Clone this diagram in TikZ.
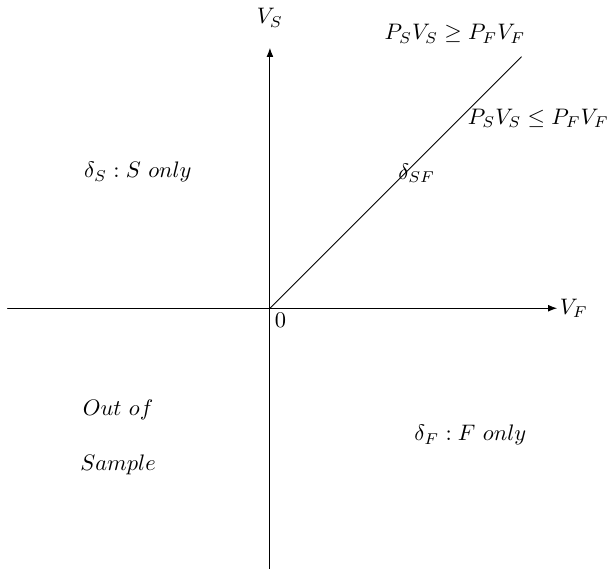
\documentclass[tikz,border=0pt]{standalone}
\usepackage{tikz}
\usetikzlibrary{arrows.meta}

\begin{document}
\begin{tikzpicture}[
    >={Latex[length=4pt,width=3pt]},
    line cap=round,
    line join=round
]
\useasboundingbox (-4.23,-4.08) rectangle (5.36,4.83);

% Axes
\coordinate (O) at (0,0);
\coordinate (xmin) at (-4.11,0);
\coordinate (xmax) at (4.50,0);
\coordinate (ymin) at (0,-4.08);
\coordinate (ymax) at (0,4.08);
\coordinate (diag) at (3.94,3.94);

\draw[->] (xmin) -- (xmax) node[right, inner sep=1pt] (VF) {$V_F$};
\draw[->] (ymin) -- (ymax);
\node (VS) at (0,4.55) {$V_S$};
\node[below right, inner sep=2pt] (zero) at (O) {$0$};

% Boundary
\draw (O) -- (diag);

% Text
\node (above) at (2.90,4.30) {$P_SV_S \geq P_FV_F$};
\node[anchor=east, inner sep=1pt] (below) at (5.35,2.98) {$P_SV_S \leq P_FV_F$};
\node (dSF) at (2.30,2.12) {$\delta_{SF}$};
\node (dS) at (-2.07,2.13) {$\delta_S : S\ only$};
\node (out) at (-2.38,-1.60) {$Out\ of$};
\node (sample) at (-2.38,-2.45) {$Sample$};
\node (dF) at (3.14,-1.99) {$\delta_F : F\ only$};

\end{tikzpicture}
\end{document}
